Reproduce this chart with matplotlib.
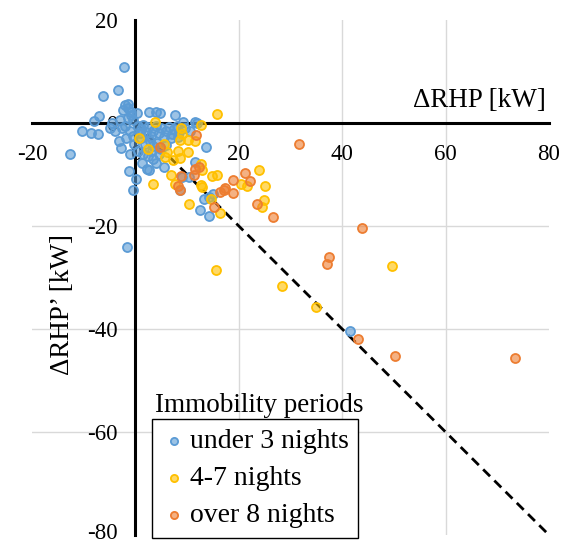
import matplotlib

matplotlib.use("Agg")
import matplotlib.pyplot as plt
from matplotlib.transforms import ScaledTranslation

plt.rcParams["font.family"] = ["Liberation Serif", "DejaVu Serif"]
plt.rcParams["axes.unicode_minus"] = False

# under 3 nights
blue_x = [-2.2, -3.4, -6.2, -2.0, -1.5, -2.4, -1.4, -0.8, -7.1, -8.0, -10.4, -8.5, -7.2, -12.6,
          -3.9, -3.1, -2.7, -1.0, -1.3, 0.2, -0.5, -1.6,
          -3.0, -2.0, -1.5, -0.5, -1.0, -2.5, -0.5, -4.5, -5.0, -1.8, -0.3, -0.8,
          0.3, 2.6, 3.9, 4.8, 7.7, 9.2, 11.6, 11.9,
          0.5, 1.0, 1.5, 2.0, 2.5, 3.0, 3.5, 4.0, 4.5, 5.0, 5.5, 6.0, 6.5, 7.0, 7.5, 8.0, 8.5, 9.5, 10.5,
          1.0, 1.8, 2.8, 3.5, 4.2, 5.0, 6.0, 0.5, 1.5, 2.5, 3.5, 4.5, 1.3, 2.3, 2.6, 5.5, 0.8, 3.2, 4.0,
          6.8, 8.2,
          13.6, 11.6, 10.4, 9.0, 8.7, 13.2, 14.2, 15.0, 12.5, 14.3, 41.6]
blue_y = [10.8, 6.4, 5.3, 3.4, 3.6, 2.6, 2.9, 2.2, 1.4, 0.4, -1.6, -2.0, -2.1, -6.0,
          -1.5, -3.4, -4.8, -6.0, -9.3, -10.9, -13.0, -24.1,
          0.5, -0.5, 1.0, 0.5, -1.5, -1.0, -2.5, 0.0, -1.0, -3.0, -4.0, 1.5,
          2.0, 2.1, 2.1, 1.9, 1.6, 0.2, 0.2, 0.0,
          -0.5, -1.2, -0.3, -1.8, -0.8, -2.5, -1.5, -0.5, -2.0, -1.0, -2.8, -1.5, -0.8, -2.2, -1.2, -0.5, -1.8, -1.0, -1.5,
          -3.0, -4.0, -3.5, -4.5, -3.8, -5.0, -4.2, -5.5, -6.0, -6.5, -7.0, -6.0, -7.8, -8.9, -9.2, -8.6, -2.0, -5.5, -7.8,
          -3.0, -2.8,
          -4.7, -7.5, -10.5, -10.5, -13.0, -14.7, -14.4, -13.7, -16.8, -18.0, -40.3]

# 4-7 nights
yellow_x = [15.8, 3.8, 12.7, 8.9, 9.0, 0.6, 8.7, 10.2, 11.5, 2.5, 5.5, 6.2, 8.2, 10.1, 5.8, 7.3,
            8.6, 12.7, 12.9, 14.9, 15.7, 6.8, 3.4, 7.7, 12.6, 10.4, 14.6, 16.3, 15.6, 23.9,
            25.0, 24.8, 24.5, 20.5, 21.6, 28.4, 35.0, 49.6, 12.9]
yellow_y = [1.8, 0.1, -0.4, -0.9, -2.1, -2.9, -3.3, -3.3, -3.5, -5.0, -4.1, -5.7, -5.5, -5.7, -6.6, -7.2,
            -6.8, -7.9, -9.1, -10.2, -10.0, -10.0, -11.9, -11.8, -12.1, -15.7, -14.7, -17.5, -28.5, -9.1,
            -12.3, -15.0, -16.4, -11.8, -12.3, -31.6, -35.8, -27.7, -12.5]

# over 8 nights
orange_x = [31.6, 11.7, 4.8, 8.8, 11.6, 12.3, 11.3, 8.2, 8.6, 18.8, 21.2, 22.2, 16.4, 17.1,
            17.4, 18.9, 15.2, 23.5, 26.6, 43.8, 37.4, 37.1, 43.0, 50.3, 73.4]
orange_y = [-4.0, -2.3, -4.7, -10.3, -8.9, -8.5, -10.0, -12.3, -13.0, -11.0, -9.7, -11.3, -13.4, -13.0,
            -12.7, -13.6, -16.3, -15.7, -18.2, -20.4, -26.1, -27.3, -42.0, -45.3, -45.7]

ref_x = [0, 80]
ref_y = [0, -80]

series = [
    ("under 3 nights", blue_x, blue_y, "#5B9BD5"),
    ("4-7 nights", yellow_x, yellow_y, "#FFC000"),
    ("over 8 nights", orange_x, orange_y, "#ED7D31"),
]

fig = plt.figure(figsize=(5.7, 5.44), dpi=100)
ax = fig.add_axes([32 / 570, 9 / 544, 517 / 570, 515 / 544])
ax.set_xlim(-20, 80)
ax.set_ylim(-80, 20)
ax.set_xticks([-20, 0, 20, 40, 60, 80])
ax.set_yticks([-80, -60, -40, -20, 0, 20])

# inner gridlines only (Excel style)
for v in [20, 40, 60]:
    ax.axvline(v, color="#D9D9D9", lw=1.0, zorder=0)
for v in [-20, -40, -60]:
    ax.axhline(v, color="#D9D9D9", lw=1.0, zorder=0)

for side in ["top", "right"]:
    ax.spines[side].set_visible(False)
ax.spines["left"].set_position(("data", 0))
ax.spines["bottom"].set_position(("data", 0))
for side in ["left", "bottom"]:
    ax.spines[side].set_linewidth(2.2)
    ax.spines[side].set_zorder(1)

ax.tick_params(axis="both", length=0, labelsize=16.5)
ax.tick_params(axis="y", pad=13)
ax.tick_params(axis="x", pad=15)

# keep the bottom label (-80) inside the canvas
lowest = ax.get_yticklabels()[0]
lowest.set_transform(lowest.get_transform() + ScaledTranslation(0, 3 / 72, fig.dpi_scale_trans))

ax.plot(ref_x, ref_y, color="black", lw=2.0, dashes=(3.5, 2.2), zorder=2)

for label, xs, ys, col in series:
    face = matplotlib.colors.to_rgba(col, 0.6)
    ax.scatter(xs, ys, s=42, facecolors=[face], edgecolors=col, linewidths=1.3,
               label=label, zorder=3)

ax.text(79.3, 4.4, "ΔRHP [kW]", ha="right", va="center", fontsize=19.5)
ax.text(-14.1, -35.2, "ΔRHP’ [kW]", ha="center", va="center", rotation=90, fontsize=19.5)

leg = ax.legend(loc="upper left", bbox_to_anchor=(152 / 570, 125 / 544),
                bbox_transform=fig.transFigure, borderaxespad=0, fontsize=20,
                frameon=True, fancybox=False, edgecolor="black", framealpha=1,
                markerscale=0.8, handlelength=0.9, handletextpad=0.1,
                labelspacing=0.42, borderpad=0.35)
leg.get_frame().set_linewidth(1.0)
fig.text(155 / 570, 138 / 544, "Immobility periods", ha="left", va="center", fontsize=19.5)

fig.savefig("out.png", dpi=100)
